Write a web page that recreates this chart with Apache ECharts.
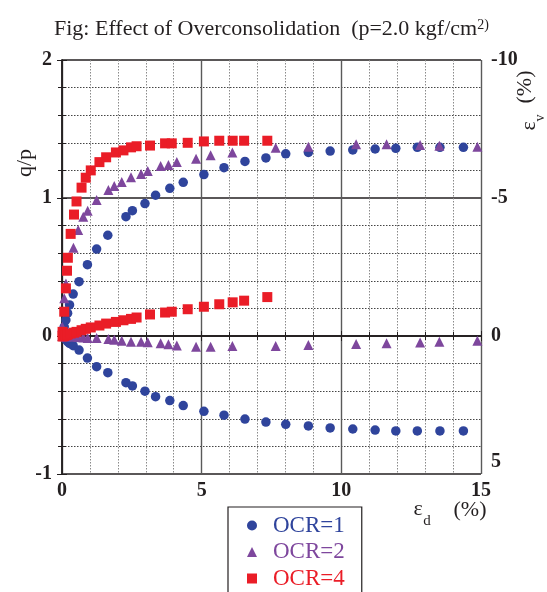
<!DOCTYPE html>
<html>
<head>
<meta charset="utf-8">
<script src="https://cdn.jsdelivr.net/npm/echarts@6/dist/echarts.min.js"></script>
<style>
  html, body { margin: 0; padding: 0; background: #ffffff; }
  #chart { width: 547px; height: 592px; }
</style>
</head>
<body>
<div id="chart"></div>
<script>
// Shear strain εd (%) at each reading, stress ratio q/p and volumetric strain εv (%)

// OCR = 1
const ocr1Strain = [0.04, 0.08, 0.14, 0.20, 0.27, 0.40, 0.61, 0.91, 1.24, 1.64,
                    2.29, 2.52, 2.97, 3.35, 3.86, 4.34, 5.08, 5.80, 6.55, 7.30,
                    8.01, 8.82, 9.60, 10.41, 11.21, 11.95, 12.72, 13.53, 14.37];
const ocr1Ratio  = [0.02, 0.067, 0.116, 0.165, 0.225, 0.304, 0.394, 0.517, 0.63, 0.73,
                    0.865, 0.908, 0.96, 1.02, 1.07, 1.114, 1.17, 1.22, 1.265, 1.29,
                    1.32, 1.33, 1.34, 1.348, 1.355, 1.36, 1.367, 1.367, 1.367];
const ocr1Vol    = [0.02, 0.06, 0.13, 0.20, 0.27, 0.35, 0.51, 0.80, 1.11, 1.33,
                    1.69, 1.81, 2.00, 2.20, 2.34, 2.52, 2.73, 2.87, 3.01, 3.12,
                    3.20, 3.26, 3.33, 3.37, 3.41, 3.44, 3.44, 3.44, 3.44];

// OCR = 2
const ocr2Strain = [0.01, 0.08, 0.14, 0.41, 0.58, 0.76, 0.92, 1.24, 1.66, 1.87,
                    2.14, 2.47, 2.83, 3.07, 3.53, 3.81, 4.11, 4.80, 5.32, 6.10,
                    7.65, 8.82, 10.53, 11.62, 12.82, 13.51, 14.87];
const ocr2Ratio  = [0.067, 0.273, 0.38, 0.64, 0.768, 0.865, 0.908, 0.986, 1.058, 1.087,
                    1.116, 1.15, 1.174, 1.196, 1.232, 1.239, 1.26, 1.285, 1.31, 1.33,
                    1.365, 1.372, 1.389, 1.39, 1.384, 1.379, 1.372];
const ocr2Vol    = [0.00, 0.01, 0.02, 0.03, 0.04, 0.05, 0.07, 0.07, 0.11, 0.14,
                    0.17, 0.21, 0.21, 0.23, 0.26, 0.30, 0.34, 0.39, 0.39, 0.36,
                    0.36, 0.33, 0.29, 0.26, 0.24, 0.21, 0.17];

// OCR = 4
const ocr4Strain = [0.02, 0.08, 0.14, 0.18, 0.21, 0.31, 0.43, 0.52, 0.70, 0.85,
                    1.03, 1.34, 1.58, 1.93, 2.20, 2.47, 2.67, 3.15, 3.69, 3.93,
                    4.50, 5.08, 5.63, 6.11, 6.52, 7.35];
const ocr4Ratio  = [0.03, 0.176, 0.345, 0.473, 0.567, 0.74, 0.88, 0.975, 1.075, 1.147,
                    1.20, 1.26, 1.295, 1.33, 1.345, 1.367, 1.375, 1.38, 1.396, 1.396,
                    1.40, 1.41, 1.415, 1.415, 1.415, 1.415];
const ocr4Vol    = [0.02, 0.00, -0.03, -0.05, -0.06, -0.09, -0.12, -0.15, -0.21, -0.26,
                    -0.31, -0.38, -0.45, -0.51, -0.57, -0.62, -0.67, -0.78, -0.85, -0.88,
                    -0.97, -1.06, -1.15, -1.22, -1.28, -1.41];

// Axis ticks
const strainTicks = [0, 5, 10, 15];
const ratioTicks  = [-1, 0, 1, 2];
const volTicks    = [-10, -5, 0, 5];

const seriesNames = ['OCR=1', 'OCR=2', 'OCR=4'];

const SERIF = '"Liberation Serif", "DejaVu Serif", serif';
const INK = '#231f20';
const BLUE = '#2f449c';
const PURPLE = '#7e479d';
const RED = '#ea1d27';

const pairs = (xs, ys) => xs.map((x, i) => [x, ys[i]]);

const groups = [
  { name: seriesNames[0], strain: ocr1Strain, ratio: ocr1Ratio, vol: ocr1Vol, color: BLUE,   symbol: 'circle',   size: 9.5 },
  { name: seriesNames[1], strain: ocr2Strain, ratio: ocr2Ratio, vol: ocr2Vol, color: PURPLE, symbol: 'triangle', size: 10 },
  { name: seriesNames[2], strain: ocr4Strain, ratio: ocr4Ratio, vol: ocr4Vol, color: RED,    symbol: 'rect',     size: 10 }
];

const series = [];
groups.forEach(g => {
  series.push({
    name: g.name, type: 'scatter', xAxisIndex: 0, yAxisIndex: 0,
    symbol: g.symbol, symbolSize: g.size, itemStyle: { color: g.color, opacity: 1 },
    data: pairs(g.strain, g.ratio), silent: true
  });
  series.push({
    name: g.name, type: 'scatter', xAxisIndex: 0, yAxisIndex: 1,
    symbol: g.symbol, symbolSize: g.size, itemStyle: { color: g.color, opacity: 1 },
    data: pairs(g.strain, g.vol), silent: true
  });
});

const tickLabel = { fontFamily: SERIF, fontSize: 20, fontWeight: 'bold', color: INK };
const frameLine = { show: true, lineStyle: { color: INK, width: 1.5 } };
const innerTick = { show: true, inside: true, length: 5, lineStyle: { color: INK, width: 1 } };
const minorTick = { show: true, splitNumber: 5, length: 4, lineStyle: { color: INK, width: 1 } };

const chart = echarts.init(document.getElementById('chart'), null, { renderer: 'canvas' });

chart.setOption({
  backgroundColor: '#ffffff',
  animation: false,
  title: {
    text: 'Fig: Effect of Overconsolidation  (p=2.0 kgf/cm{sup|2)}',
    left: 49, top: 13,
    textStyle: {
      fontFamily: SERIF, fontSize: 22, fontWeight: 'normal', color: INK,
      rich: { sup: { fontFamily: SERIF, fontSize: 14, color: INK, verticalAlign: 'top' } }
    }
  },
  grid: { left: 62, right: 66, top: 60, bottom: 118, containLabel: false, show: false },
  legend: {
    orient: 'vertical', left: 228, top: 507, height: 120,
    padding: [7, 17, 14, 19],
    itemWidth: 10, itemHeight: 10, itemGap: 3.5,
    borderColor: INK, borderWidth: 1.2,
    selectedMode: false,
    textStyle: { fontFamily: SERIF, fontSize: 23, lineHeight: 21, padding: [0, 0, 0, 11] },
    data: [
      { name: seriesNames[0], icon: 'circle',   textStyle: { color: BLUE } },
      { name: seriesNames[1], icon: 'triangle', textStyle: { color: PURPLE } },
      { name: seriesNames[2], icon: 'rect',     textStyle: { color: RED } }
    ]
  },
  xAxis: [
    {
      type: 'value', position: 'bottom',
      min: strainTicks[0], max: strainTicks[strainTicks.length - 1], interval: 5,
      axisLine: frameLine, axisTick: innerTick, minorTick: minorTick,
      axisLabel: Object.assign({ margin: 7 }, tickLabel),
      splitLine: { show: true, lineStyle: { color: '#5a5a5a', width: 1.4 } },
      minorSplitLine: { show: true, lineStyle: { color: '#8a8a8a', width: 1, type: [1.5, 1.5] } }
    },
    {
      type: 'value', position: 'top',
      min: strainTicks[0], max: strainTicks[strainTicks.length - 1], interval: 5,
      axisLine: frameLine, axisTick: innerTick, minorTick: minorTick,
      axisLabel: { show: false }, splitLine: { show: false }
    }
  ],
  yAxis: [
    {
      type: 'value', position: 'left',
      min: ratioTicks[0], max: ratioTicks[ratioTicks.length - 1], interval: 1,
      axisLine: frameLine, axisTick: innerTick, minorTick: minorTick,
      axisLabel: Object.assign({ margin: 10 }, tickLabel),
      splitLine: { show: true, lineStyle: { color: INK, width: 1.5 } },
      minorSplitLine: { show: true, lineStyle: { color: '#444444', width: 1, type: [1.5, 1.5] } }
    },
    {
      type: 'value', position: 'right', inverse: true,
      min: volTicks[0], max: volTicks[volTicks.length - 1], interval: 5,
      axisLine: frameLine, axisTick: innerTick, minorTick: minorTick,
      axisLabel: Object.assign({
        margin: 10,
        formatter: v => (v === volTicks[volTicks.length - 1] ? '{lift|' + v + '}' : String(v)),
        rich: { lift: Object.assign({ padding: [0, 0, 24, 0] }, tickLabel) }
      }, tickLabel),
      splitLine: { show: false }
    }
  ],
  graphic: [
    { type: 'text', x: 25, y: 163, rotation: Math.PI / 2,
      style: { text: 'q/p', font: '22px ' + SERIF, fill: INK, align: 'center', verticalAlign: 'middle' } },
    { type: 'text', x: 418, y: 509,
      style: { text: 'ε', font: '22px ' + SERIF, fill: INK, align: 'center', verticalAlign: 'middle' } },
    { type: 'text', x: 427, y: 521,
      style: { text: 'd', font: '15px ' + SERIF, fill: INK, align: 'center', verticalAlign: 'middle' } },
    { type: 'text', x: 470, y: 510,
      style: { text: '(%)', font: '22px ' + SERIF, fill: INK, align: 'center', verticalAlign: 'middle' } },
    { type: 'text', x: 525, y: 87, rotation: Math.PI / 2,
      style: { text: '(%)', font: '22px ' + SERIF, fill: INK, align: 'center', verticalAlign: 'middle' } },
    { type: 'text', x: 529, y: 126, rotation: Math.PI / 2,
      style: { text: 'ε', font: '22px ' + SERIF, fill: INK, align: 'center', verticalAlign: 'middle' } },
    { type: 'text', x: 540, y: 118, rotation: Math.PI / 2,
      style: { text: 'v', font: '14px ' + SERIF, fill: INK, align: 'center', verticalAlign: 'middle' } }
  ],
  series: series
});
</script>
</body>
</html>
